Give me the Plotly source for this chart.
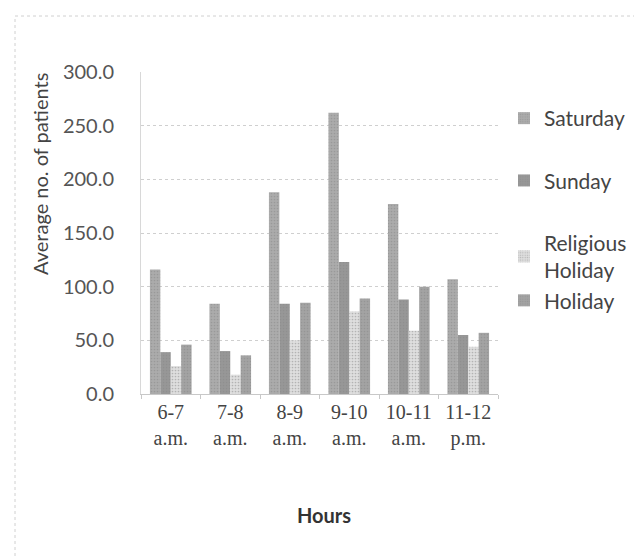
import plotly.graph_objects as go

hours = ["6-7<br>a.m.", "7-8<br>a.m.", "8-9<br>a.m.", "9-10<br>a.m.", "10-11<br>a.m.", "11-12<br>p.m."]
saturday = [116, 84, 188, 262, 177, 107]
sunday = [39, 40, 84, 123, 88, 55]
religious_holiday = [26, 18, 50, 77, 59, 44]
holiday = [46, 36, 85, 89, 100, 57]
y_ticks = [0, 50, 100, 150, 200, 250, 300]

series = [
    ("Saturday", saturday, "#ababab", "g1"),
    ("Sunday", sunday, "#979797", "g2"),
    ("Religious<br>Holiday", religious_holiday, "#dedede", "g3"),
    ("Holiday", holiday, "#a3a3a3", "g3"),
]

fig = go.Figure()
for name, vals, col, grp in series:
    fig.add_trace(go.Bar(
        x=hours, y=vals, name=name, legendgroup=grp,
        marker=dict(color=col, line=dict(width=0),
                    pattern=dict(shape=".", fgcolor="#888888", size=3, solidity=0.25)),
    ))

W, H = 642, 556
L, R, T, B = 133, 10, 64, 170
pw = W - L - R
ph = H - T - B
plot_right = 490

def px(x):
    return (x - L) / pw

def py(y):
    return (H - B - y) / ph

fig.update_layout(
    width=W, height=H,
    paper_bgcolor="white", plot_bgcolor="white",
    margin=dict(l=L, r=R, t=T, b=B),
    barmode="group", bargap=0.3, bargroupgap=0,
    font=dict(family="Lato, sans-serif", color="#444"),
    legend=dict(x=px(496), y=py(90), xanchor="left", yanchor="top",
                font=dict(size=21, color="#444"), tracegroupgap=32,
                traceorder="grouped",
                itemwidth=30, bgcolor="rgba(0,0,0,0)"),
    xaxis=dict(
        domain=[0, px(plot_right)],
        tickfont=dict(family="Liberation Serif, serif", size=20, color="#444"),
        showline=True, linecolor="#c8c8c8", linewidth=1,
        ticks="outside", tickson="boundaries", tickcolor="#c8c8c8", ticklen=4,
    ),
    yaxis=dict(
        range=[0, 300], tickvals=y_ticks, tickformat=".1f",
        tickfont=dict(family="Lato, sans-serif", size=20, color="#555"),
        showgrid=True, gridcolor="#cfcfcf", griddash="dot", gridwidth=1,
        showline=True, linecolor="#d8d8d8", linewidth=1,
        zeroline=False, ticks="", ticklabelstandoff=22,
    ),
    annotations=[
        dict(text="Average no. of patients", textangle=-90, xref="paper", yref="paper",
             x=px(32), y=py(166), xanchor="center", yanchor="middle", showarrow=False,
             font=dict(family="Lato, sans-serif", size=20, color="#444")),
        dict(text="<b>Hours</b>", xref="paper", yref="paper",
             x=px(316), y=py(507), xanchor="center", yanchor="middle", showarrow=False,
             font=dict(family="Lato, sans-serif", size=20, color="#333")),
    ],
    shapes=[dict(type="rect", xref="paper", yref="paper",
                 x0=px(7), x1=px(641), y0=py(555), y1=py(8),
                 line=dict(color="#d0d0d0", width=1, dash="dot"))],
)

fig.write_html("out.html")
